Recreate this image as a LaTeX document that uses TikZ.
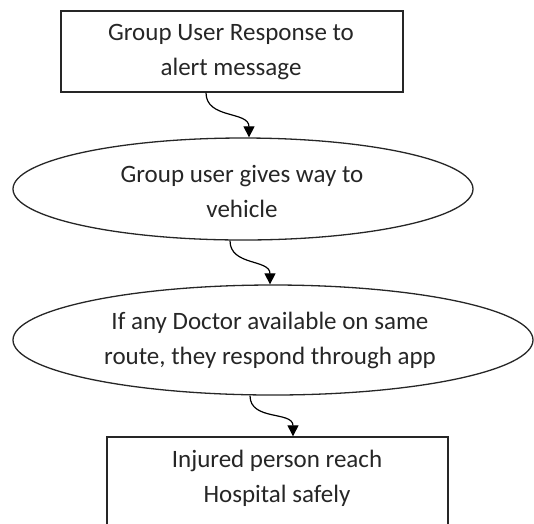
\documentclass[tikz,border=0pt]{standalone}
\usepackage{fontspec}
\setmainfont{Carlito}
\usetikzlibrary{shapes.geometric,arrows.meta}
\begin{document}
\begin{tikzpicture}[x=1pt,y=-1pt,
  every node/.style={font=\fontsize{25}{35}\selectfont, align=center, inner sep=0pt, text=black!85},
  boxnode/.style={draw=black!85, line width=1.4pt, rectangle},
  ovalnode/.style={draw=black!85, line width=1.3pt, ellipse},
  link/.style={draw=black, line width=1.2pt, -{Triangle[width=11pt,length=11pt]}, out=-90, in=90, looseness=1.1}]
  \useasboundingbox (0,0) rectangle (534,523);
  \clip (0,0) rectangle (534,523);
  \node[boxnode, minimum width=342pt, minimum height=81pt] (b1) at (232,51.5) {};
  \node at (231,52) {Group User Response to\\alert message};
  \node[ovalnode, minimum width=460pt, minimum height=102pt] (e1) at (243,189) {};
  \node at (242,191) {Group user gives way to\\vehicle};
  \node[ovalnode, minimum width=520pt, minimum height=110pt] (e2) at (273,340) {};
  \node at (270,340) {If any Doctor available on same\\route, they respond through app};
  \node[boxnode, minimum width=341pt, minimum height=130pt] (b4) at (277.5,502) {};
  \node at (277,478) {Injured person reach\\Hospital safely};
  \draw[link] ([xshift=-26pt]b1.south) to ([xshift=6pt]e1.north);
  \draw[link] ([xshift=-13pt]e1.south) to ([xshift=-3pt]e2.north);
  \draw[link] ([xshift=-23pt]e2.south) to ([xshift=15.5pt]b4.north);
\end{tikzpicture}
\end{document}
